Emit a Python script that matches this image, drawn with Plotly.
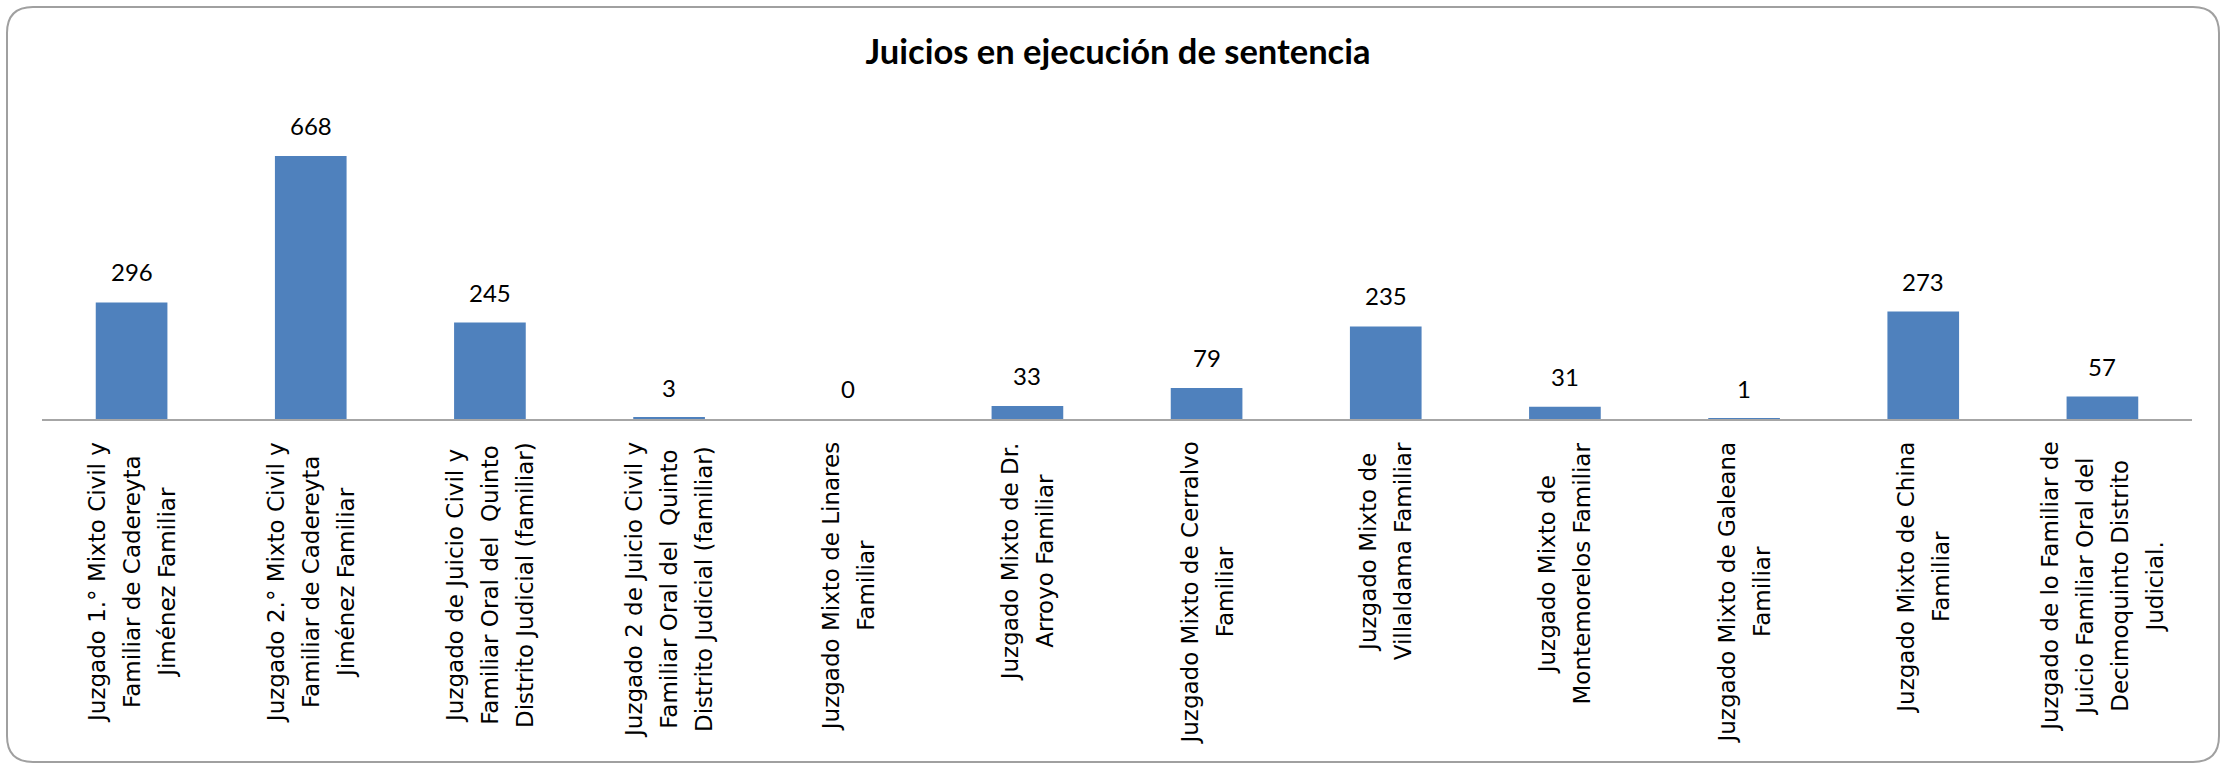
import plotly.graph_objects as go

# ---- data ----
categories = [
    "Juzgado 1.° Mixto Civil y Familiar de Cadereyta Jiménez Familiar",
    "Juzgado 2.° Mixto Civil y Familiar de Cadereyta Jiménez Familiar",
    "Juzgado de Juicio Civil y Familiar Oral del Quinto Distrito Judicial (familiar)",
    "Juzgado 2 de Juicio Civil y Familiar Oral del Quinto Distrito Judicial (familiar)",
    "Juzgado Mixto de Linares Familiar",
    "Juzgado Mixto de Dr. Arroyo Familiar",
    "Juzgado Mixto de Cerralvo Familiar",
    "Juzgado Mixto de Villaldama Familiar",
    "Juzgado Mixto de Montemorelos Familiar",
    "Juzgado Mixto de Galeana Familiar",
    "Juzgado Mixto de China Familiar",
    "Juzgado de lo Familiar de Juicio Familiar Oral del Decimoquinto Distrito Judicial.",
]
tick_labels = [
    "Juzgado 1.° Mixto Civil y\nFamiliar de Cadereyta\nJiménez Familiar",
    "Juzgado 2.° Mixto Civil y\nFamiliar de Cadereyta\nJiménez Familiar",
    "Juzgado de Juicio Civil y\nFamiliar Oral del  Quinto\nDistrito Judicial (familiar)",
    "Juzgado 2 de Juicio Civil y\nFamiliar Oral del  Quinto\nDistrito Judicial (familiar)",
    "Juzgado Mixto de Linares\nFamiliar",
    "Juzgado Mixto de Dr.\nArroyo Familiar",
    "Juzgado Mixto de Cerralvo\nFamiliar",
    "Juzgado Mixto de\nVillaldama Familiar",
    "Juzgado Mixto de\nMontemorelos Familiar",
    "Juzgado Mixto de Galeana\nFamiliar",
    "Juzgado Mixto de China\nFamiliar",
    "Juzgado de lo Familiar de\nJuicio Familiar Oral del\nDecimoquinto Distrito\nJudicial.",
]
values = [296, 668, 245, 3, 0, 33, 79, 235, 31, 1, 273, 57]
title_text = "Juicios en ejecución de sentencia"

# ---- layout geometry (pixels) ----
W, H = 2226, 766
PL, PR = 42, 2192      # plot area left/right
PT, PB = 104, 419      # plot area top/bottom


def px_x(px):
    return (px - PL) / (PR - PL)


def px_y(py):
    return (PB - py) / (PB - PT)


BAR_COLOR = "#4F81BD"
LABEL_SIZE = 23
LINE_GAP = 35  # desired distance between label lines (px)
EXTRA = LINE_GAP - 1.3 * LABEL_SIZE

fig = go.Figure()
fig.add_trace(go.Bar(
    x=categories, y=values,
    marker=dict(color=BAR_COLOR, line=dict(width=0)),
    hoverinfo="x+y",
))

annotations = []
# value labels
for c, v in zip(categories, values):
    annotations.append(dict(
        x=c, y=v, xref="x", yref="y", text=str(v), showarrow=False,
        yanchor="bottom", xanchor="center", yshift=14,
        font=dict(family="Lato", size=24, color="#000000"),
    ))


def esc(s):
    return s.replace("  ", "&nbsp; ")


# category labels (rotated, centered lines, one annotation per visible line)
for c, lab in zip(categories, tick_labels):
    lines = lab.split("\n")
    n = len(lines)
    for i in range(n):
        parts = []
        for j, ln in enumerate(lines):
            if j == i:
                parts.append(esc(ln))
            else:
                parts.append(f'<span style="color:rgba(0,0,0,0)">{esc(ln)}</span>')
        annotations.append(dict(
            x=c, y=px_y(440), xref="x", yref="paper",
            text="<br>".join(parts),
            showarrow=False, textangle=-90, align="center",
            xanchor="center", yanchor="top",
            xshift=(i - (n - 1) / 2) * EXTRA,
            font=dict(family="DejaVu Sans", size=LABEL_SIZE, color="#000000"),
        ))

# rounded chart border
x0, x1 = px_x(7), px_x(2219)
y0, y1 = px_y(7), px_y(762)
rx = 26 / (PR - PL)
ry = 26 / (PB - PT)
path = (
    f"M {x0+rx},{y0} L {x1-rx},{y0} Q {x1},{y0} {x1},{y0-ry} "
    f"L {x1},{y1+ry} Q {x1},{y1} {x1-rx},{y1} "
    f"L {x0+rx},{y1} Q {x0},{y1} {x0},{y1+ry} "
    f"L {x0},{y0-ry} Q {x0},{y0} {x0+rx},{y0} Z"
)

fig.update_layout(
    width=W, height=H,
    margin=dict(l=PL, r=W - PR, t=PT, b=H - PB, pad=0),
    paper_bgcolor="white", plot_bgcolor="white",
    showlegend=False,
    bargap=0.6,
    title=dict(
        text=f"<b>{title_text}</b>", x=1118 / W, xanchor="center",
        y=1 - 52 / H, yanchor="middle",
        font=dict(family="Lato", size=34.5, color="#000000"),
    ),
    xaxis=dict(
        type="category", range=[-0.5, len(categories) - 0.5],
        showline=True, linecolor="#A6A6A6", linewidth=2,
        showticklabels=False, ticks="", showgrid=False, zeroline=False,
    ),
    yaxis=dict(range=[0, 800], visible=False, showgrid=False, zeroline=False),
    annotations=annotations,
    shapes=[dict(type="path", path=path, xref="paper", yref="paper",
                 line=dict(color="#A0A0A0", width=2), fillcolor="rgba(0,0,0,0)",
                 layer="below")],
)

fig.write_html("out.html", config={"displayModeBar": False},
               post_script="document.body.style.margin='0';")
